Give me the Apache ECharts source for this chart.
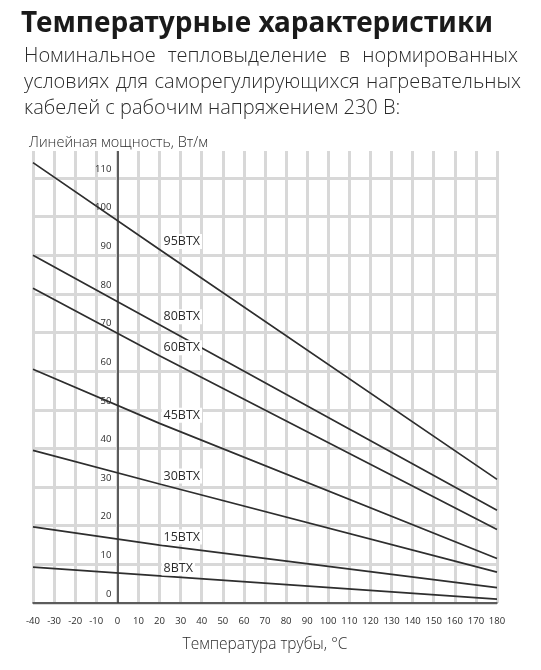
<!DOCTYPE html>
<html lang="ru">
<head>
  <meta charset="UTF-8">
  <title>Температурные характеристики</title>
  <style>
    html, body { margin: 0; padding: 0; background: #fff; }
    #chart { width: 541px; height: 670px; }
  </style>
</head>
<body>
  <div id="chart"></div>
  <script src="https://cdn.jsdelivr.net/npm/echarts@6/dist/echarts.min.js"></script>
  <script>
    // точки (температура трубы, °C)
    const temps = [-40, 20, 180];
    // линейная мощность, Вт/м
    const w95 = [114, 91.5, 32];
    const w80 = [90, 72, 24];
    const w60 = [81.5, 64, 19];
    const w45 = [60.5, 46.5, 11.5];
    const w30 = [39.5, 30.8, 8];
    const w15 = [19.7, 15, 4];
    const w8 = [9.3, 7, 1];
    const cableNames = ['95BTX', '80BTX', '60BTX', '45BTX', '30BTX', '15BTX', '8BTX'];
    const cableValues = [w95, w80, w60, w45, w30, w15, w8];
    // подписи кабелей ставим у этой точки
    const labelTemp = 20;

    const lightFont = 'Open Sans';
    const textColor = '#2b2b2b';

    const series = cableNames.map((name, k) => ({
      name,
      type: 'line',
      symbol: 'circle',
      symbolSize: 0,
      showSymbol: true,
      lineStyle: { color: '#2e2e2e', width: 1.7 },
      itemStyle: { color: '#2e2e2e' },
      silent: true,
      z: 3,
      data: temps.map((t, i) => ({
        value: [t, cableValues[k][i]],
        label: t === labelTemp ? {
          show: true,
          formatter: name,
          position: 'right',
          distance: 2,
          offset: [0, -8],
          fontFamily: lightFont,
          fontSize: 12.5,
          color: textColor,
          backgroundColor: '#fff',
          padding: [1, 2]
        } : { show: false }
      }))
    }));

    // ось Y проходит через 0 °C
    series[0].markLine = {
      silent: true,
      symbol: 'none',
      label: { show: false },
      lineStyle: { color: '#333', width: 1.5, type: 'solid' },
      data: [{ xAxis: 0 }]
    };

    const gap = w => ({ width: w, fontSize: 20 });

    const option = {
      animation: false,
      backgroundColor: '#fff',
      title: [
        {
          text: 'Температурные характеристики',
          left: 16, top: 5,
          textStyle: { fontFamily: 'Noto Sans', fontWeight: 'bold', fontSize: 28, color: '#1a1a1a' }
        },
        {
          text: 'Номинальное{a| }тепловыделение{a| }в{a| }нормированных',
          left: 19, top: 41,
          textStyle: {
            fontFamily: lightFont, fontWeight: 300, fontSize: 20, color: textColor,
            rich: { a: gap(12) }
          }
        },
        {
          text: 'условиях{b| }для{b| }саморегулирующихся{b| }нагревательных',
          left: 19, top: 67,
          textStyle: {
            fontFamily: lightFont, fontWeight: 300, fontSize: 20, color: textColor,
            rich: { b: gap(6.5) }
          }
        },
        {
          text: 'кабелей с рабочим напряжением 230 В:',
          left: 19, top: 93,
          textStyle: { fontFamily: lightFont, fontWeight: 300, fontSize: 20, color: textColor }
        },
        {
          text: 'Линейная мощность, Вт/м',
          left: 24, top: 130,
          textStyle: { fontFamily: lightFont, fontWeight: 300, fontSize: 14.5, color: textColor }
        }
      ],
      grid: { left: 33, right: 44, top: 151, bottom: 67 },
      xAxis: {
        type: 'value',
        min: -40,
        max: 180,
        interval: 10,
        name: 'Температура трубы, °С',
        nameLocation: 'middle',
        nameGap: 34,
        nameTextStyle: { fontFamily: lightFont, fontWeight: 300, fontSize: 15.5, color: textColor },
        axisLine: { show: true, lineStyle: { color: '#333', width: 1.5 } },
        axisTick: { show: false },
        axisLabel: { fontFamily: lightFont, fontSize: 9.5, color: textColor, margin: 13 },
        splitLine: { show: true, lineStyle: { color: '#d8d8d8', width: 3 } }
      },
      yAxis: {
        type: 'value',
        min: 0,
        max: 117,
        interval: 10,
        offset: -84.4,
        axisLine: { show: false, onZero: false },
        axisTick: { show: false },
        axisLabel: {
          showMaxLabel: false,
          fontFamily: lightFont, fontSize: 9.5, color: textColor,
          margin: 6, verticalAlign: 'bottom', padding: [0, 0, 4, 0]
        },
        splitLine: { show: true, showMaxLine: false, lineStyle: { color: '#d8d8d8', width: 3 } }
      },
      series
    };

    const myChart = echarts.init(document.getElementById('chart'));
    myChart.setOption(option);
  </script>
</body>
</html>
